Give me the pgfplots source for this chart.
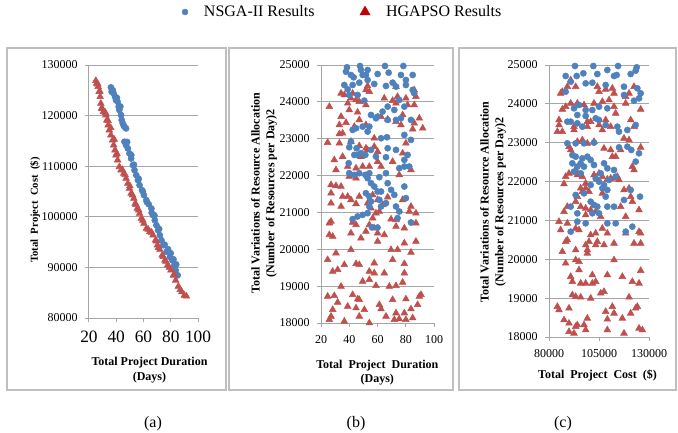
\documentclass[border=0pt]{standalone}
\usepackage{fontspec}
\setmainfont{Liberation Serif}
\usepackage{pgfplots}
\usepackage{pgfplotstable}
\pgfplotsset{compat=1.18}
\definecolor{nsga}{HTML}{4F81BD}
\definecolor{hga}{HTML}{C0504D}
\definecolor{gridc}{HTML}{A6A6A6}
\definecolor{boxc}{HTML}{BFBFBF}
\definecolor{legred}{HTML}{C00000}

% ---------- panel (a) ----------
\pgfplotstableread{
x y
36.1 125580
36.6 124720
38.1 124390
39.1 123730
39.8 123070
41.0 122740
41.8 121760
42.3 121100
43.5 120110
44.0 119120
44.8 118460
46.0 117800
47.2 117470
46.0 114830
47.2 114170
48.5 113510
49.7 112520
50.9 111530
52.2 110210
53.4 109220
54.7 108230
55.9 107240
57.1 106250
58.9 105270
60.3 104280
62.1 103290
63.8 102490
65.8 101640
67.0 100320
68.3 99330
69.5 98340
70.7 97350
72.0 96360
73.2 95370
74.5 94390
76.9 93070
79.4 92070
81.1 91410
82.6 90420
83.6 89430
85.1 88440
37.5 125000
40.5 123500
43.0 121800
45.5 118000
48.0 114800
51.0 112200
53.0 110300
56.5 107500
59.5 105000
62.5 102900
66.0 100800
68.0 100300
71.5 97600
75.5 94500
78.0 93600
80.0 92800
82.0 91600
84.0 90600
}\hbA
\pgfplotstableread{
x y
25.0 126900
25.7 126370
26.7 125710
27.4 124720
28.2 123730
28.7 122410
29.2 121430
30.6 120770
32.4 120110
33.1 119120
34.1 118130
34.9 117140
36.1 116150
37.3 115160
38.1 114170
39.1 113180
39.8 112190
41.0 111200
42.3 109880
43.5 109220
45.5 108560
47.2 107570
48.5 106580
49.7 105590
50.9 104610
52.9 103620
53.9 102630
55.4 101640
57.1 100650
58.4 99660
60.3 98670
62.1 97680
64.6 97020
67.0 96360
68.8 95370
70.2 94390
72.0 93530
73.7 92410
75.7 91410
77.7 90420
80.1 89430
81.9 88440
83.6 87450
85.6 86260
88.1 85140
90.0 84480
91.5 84300
26.5 126200
28.0 124800
30.0 121300
32.0 120600
34.0 119000
36.0 117600
38.5 115300
40.5 112500
44.5 109300
46.5 108300
50.0 106100
52.0 104300
54.5 102400
56.5 101300
59.5 99300
63.5 97500
66.0 96900
69.5 95200
71.0 93900
74.5 92100
76.5 91200
79.0 90000
82.5 88600
87.0 85600
}\haA

% ---------- panel (b) ----------
\pgfplotstableread{
x y
38.4 24937
37.7 24819
47.6 24973
41.2 24729
43.1 24666
49.5 24729
51.8 24729
48.3 24865
53.0 24865
60.1 24756
65.3 24973
67.9 24792
78.3 24973
76.6 24729
84.9 24729
80.1 24594
36.5 24458
38.9 24341
42.4 24458
47.1 24521
53.0 24594
57.7 24485
66.0 24431
70.7 24521
73.1 24413
80.1 24458
45.9 24187
40.0 24187
84.9 24323
86.0 24232
50.7 24034
67.2 23871
71.9 23781
75.4 24052
79.0 23871
63.6 23736
60.1 23600
55.4 23645
58.9 23555
67.2 23510
73.1 23510
83.7 23510
76.6 23555
53.0 23194
49.5 23329
44.8 23284
42.4 23239
54.2 23329
62.5 23013
66.7 23040
79.0 23103
83.7 22968
41.2 22923
40.0 22769
45.2 22742
43.6 22561
45.9 22561
48.3 22606
51.4 22561
55.4 22697
58.9 22516
66.0 22498
73.1 22697
67.2 22742
79.0 22426
81.3 22561
39.6 22335
40.0 22064
43.6 22019
47.1 22064
54.2 22064
53.0 21929
51.4 22019
61.3 21956
66.0 22064
75.4 22200
79.0 22245
82.5 22245
55.4 21793
57.7 21703
60.1 21567
62.5 21567
67.2 21793
69.6 21613
79.0 21703
51.8 21522
54.2 21432
61.3 21342
71.9 21477
80.1 21387
55.4 21296
54.2 21161
62.5 21161
66.0 21251
73.1 21161
75.4 21025
53.0 20980
49.5 20935
45.9 20890
74.2 20845
83.7 20727
42.4 20818
56.0 20600
60.0 20590
}\hbB
\pgfplotstableread{
x y
34.2 24232
36.5 24187
42.4 24232
41.2 24097
53.0 24431
54.2 24277
51.8 24323
73.1 24413
64.8 24097
74.2 24142
80.1 24097
87.2 24142
86.0 24323
38.9 23961
44.8 24052
47.1 24006
25.9 23871
40.0 23781
45.9 23717
51.8 23916
70.7 24034
73.1 23961
81.3 23916
86.0 23916
34.2 23600
37.7 23437
33.0 23374
47.1 23510
51.8 23374
62.5 23600
67.2 23528
73.1 23464
76.6 23374
77.8 23645
86.0 23419
89.6 23555
92.0 23284
84.9 23257
43.6 23329
35.3 23148
33.0 23130
57.7 23013
24.7 22895
33.0 22877
41.2 22923
47.1 22805
51.8 22742
53.0 22697
57.7 22787
60.1 22651
48.3 22516
29.4 22426
35.3 22516
30.6 22155
38.9 22245
40.0 21974
44.8 22200
49.5 22245
54.2 22245
62.5 22245
60.1 22380
70.7 22380
77.8 22606
80.1 22877
83.7 22155
75.4 22019
44.8 21929
27.1 21748
30.6 21721
34.2 21703
27.1 21522
35.3 21432
38.9 21432
41.2 21342
47.1 21432
27.1 21251
34.2 21161
44.8 21233
56.6 21477
60.1 21342
63.7 21206
61.3 21025
58.9 20980
67.2 21414
77.8 21342
83.7 21161
87.2 20980
82.5 21025
53.0 21251
55.4 21116
25.9 20709
27.1 20754
42.4 20727
44.8 20664
25.9 20393
28.3 20348
41.2 20438
48.3 20303
51.8 20484
54.2 20664
57.7 20574
60.1 20438
60.1 20213
64.8 20393
56.6 20845
69.6 20818
73.1 20800
73.1 20619
79.0 20167
87.2 20709
87.2 20213
79.0 20574
24.7 19716
30.6 19896
41.2 19987
28.3 19400
31.8 19445
36.5 19580
44.8 19607
47.1 19580
54.2 19400
57.7 19626
57.7 19354
64.8 19354
69.6 19987
70.7 19716
74.2 19987
79.0 19607
83.7 19914
79.0 19354
54.2 19174
49.5 19129
34.2 18993
58.9 19011
68.4 18993
73.1 19011
77.8 19101
24.7 18722
29.4 18740
31.8 18559
28.3 18361
42.4 18767
46.0 18650
38.9 18451
47.1 18632
44.8 18406
50.7 18361
61.3 18496
62.5 18379
70.7 18632
80.1 18650
89.6 18722
90.8 18767
88.4 18496
83.7 18379
79.0 18270
73.1 18270
27.1 18180
25.9 18090
36.5 18045
47.1 18180
54.2 18000
66.0 18180
71.9 18090
75.4 18108
80.1 18090
84.9 18135
}\haB

% ---------- panel (c) ----------
\pgfplotstableread{
x y
93000 24974
102170 24974
109170 24871
114510 24974
123840 24940
88330 24717
93840 24717
97170 24786
104170 24768
112500 24717
113840 24743
120840 24768
123340 24854
90840 24571
98340 24528
101670 24545
108340 24485
117500 24442
88330 24314
124170 24400
125840 24271
117500 24228
122510 24082
125010 24142
95000 23971
92500 23885
98340 23842
101670 23842
105000 23928
109170 23885
94170 23713
98340 23688
103340 23628
105000 23585
89170 23542
90840 23542
94170 23499
96670 23413
108340 23456
114170 23413
119170 23327
123340 23456
115000 23285
89170 22984
93340 22984
97500 22984
102500 23002
115000 22881
119170 22899
121170 22813
125010 22727
91670 22684
93340 22641
96670 22598
99170 22641
100840 22555
95840 22470
91670 22470
94170 22384
97500 22384
102500 22427
107510 22470
123340 22513
92500 22255
95840 22212
105840 22212
109170 22341
110010 22041
112510 22298
113340 22127
103340 22084
105000 21998
107510 21912
106670 21827
109170 21784
100840 21912
97500 21698
93340 21655
100840 21483
102500 21398
104170 21355
108340 21612
109170 21355
112510 21355
117500 21526
120840 21784
125510 21612
90840 21355
94170 21183
101670 21183
105000 21183
94170 20969
98340 20926
109170 20926
113340 20926
90840 20711
118340 20711
121670 20840
}\hbC
\pgfplotstableread{
x y
86670 24314
85830 24271
89170 24442
93340 24442
90840 24614
104170 24442
105000 24314
108340 24374
111670 24400
112510 24271
118340 24185
120010 24271
122510 24442
110010 24099
90840 24014
94170 24014
86670 23859
88330 23928
97500 23971
102500 24014
106670 24057
112510 23928
113340 23756
118340 24014
125840 23859
85000 23585
85000 23456
84170 23285
86670 23285
92500 23413
92500 23327
99170 23542
99170 23413
100840 23542
105000 23456
108340 23585
106670 23327
110840 23413
120840 23585
122510 23413
117500 23113
120010 23070
94170 23027
96670 23070
99170 22984
102500 23027
107510 22856
110840 22813
115840 22813
125840 22881
90840 22813
90000 22899
111670 22641
113340 22641
121670 22384
122510 22298
88330 22127
90000 22212
93340 22298
94170 22170
96670 22127
102500 22170
105000 22212
106670 22127
109170 22058
110840 22084
112510 22084
114170 22127
115000 22041
98340 21955
95840 21827
98340 21827
87500 21938
94170 21612
96670 21741
100000 21741
106670 21698
117500 21784
120010 21827
120840 21612
121670 21483
93340 21483
95840 21355
98340 21312
100840 21269
89170 21355
87500 21226
98340 21140
103340 21226
105840 21097
115840 21355
118340 21097
125010 21269
85000 20969
89170 20926
85830 20754
93340 20797
95000 20754
100840 20626
103340 20669
106670 20797
109170 20669
104170 20454
100000 20454
98340 20368
103340 20368
107510 20368
112510 20411
118340 20669
125010 20711
125840 20669
89170 20497
88330 20454
125840 20411
122510 20411
86670 20197
93340 20240
99170 20154
88330 19897
93340 19982
95000 19940
99170 20240
112510 19982
125840 19708
90840 19554
95000 19725
91670 19425
95840 19382
98340 19382
101670 19382
103340 19425
101670 19597
109170 19597
116670 19554
121670 19425
125010 19382
91670 19082
93340 19039
95840 19022
100840 18996
105840 19125
107510 19168
120010 19022
84170 18782
85000 18696
90000 18739
87500 18439
90000 18353
93340 18267
94170 18310
97500 18310
99170 18481
98340 18181
90000 18138
92500 18095
108340 18653
111670 18782
112510 18610
109170 18456
116670 18481
120840 18610
123340 18739
124170 18782
109170 18181
117500 18095
125010 18224
126680 18181
}\haC

\pgfplotsset{
  panel/.style={
    scale only axis,
    axis x line*=bottom, axis y line*=left,
    axis line style={gridc, line width=0.75pt},
    ymajorgrids,
    major grid style={gridc, line width=0.75pt},
    major tick style={gridc, line width=0.75pt},
    major tick length=3pt,
    tick align=outside,
    clip=false,
    scaled ticks=false,
    /pgf/number format/fixed,
    /pgf/number format/precision=0,
    /pgf/number format/assume math mode=true,
    /pgf/number format/1000 sep={},
    tick label style={font=\fontsize{9}{10}\selectfont},
    yticklabel style={xshift=-2pt},
    xticklabel style={yshift=-3pt},
    label style={font=\fontsize{9}{11}\selectfont\bfseries, align=center},
  },
  nsg/.style={only marks, mark=*, mark size=2.3pt, color=nsga, mark options={draw=nsga, fill=nsga}},
  hga/.style={only marks, mark=triangle*, mark size=2.9pt, color=hga, mark options={draw=hga, fill=hga}},
}

\begin{document}
\begin{tikzpicture}
\begin{scope}[x=0.75pt, y=-0.75pt]
\useasboundingbox (0,0) rectangle (678,432);
\draw[boxc, line width=0.8pt] (7,48) rectangle (226,390);
\draw[boxc, line width=0.8pt] (229,48) rectangle (453,390);
\draw[boxc, line width=0.8pt] (459,48) rectangle (676,390);
\node[font=\fontsize{12}{14}\selectfont] at (153,424) {(a)};
\node[font=\fontsize{12}{14}\selectfont] at (356,424) {(b)};
\node[font=\fontsize{12}{14}\selectfont] at (563,424) {(c)};
\end{scope}

% legend
\begin{axis}[hide axis, scale only axis, width=20pt, height=10pt,
  xmin=0, xmax=1, ymin=0, ymax=1,
  at={(257.25pt,-9pt)}, anchor=center,
  legend columns=2,
  legend style={at={(0.5,0.5)}, anchor=center, draw=none, fill=none,
    font=\fontsize{12}{14}\selectfont,
    /tikz/every odd column/.append style={column sep=10pt},
    /tikz/every even column/.append style={column sep=32pt}},
  legend cell align=left]
\addlegendimage{only marks, mark=*, mark size=2.2pt, color=nsga}
\addlegendentry{NSGA-II Results}
\addlegendimage{only marks, mark=triangle*, mark size=4.4pt, color=legred}
\addlegendentry{HGAPSO Results}
\end{axis}

% panel (a)
\begin{axis}[panel,
  at={(66.75pt,-238.5pt)}, anchor=south west,
  width=81.75pt, height=189.75pt,
  xmin=20, xmax=100, ymin=80000, ymax=130000,
  xtick={20,40,60,80,100},
  ytick={80000,90000,100000,110000,120000,130000},
  xticklabel style={font=\fontsize{13}{14}\selectfont},
  xlabel={Total Project Duration\\(Days)},
  ylabel={Total\ \ Project\ \ Cost\ \ (\$)},
  xlabel style={at={(axis description cs:0.555,-0.206)}, anchor=center},
  ylabel style={at={(axis description cs:-0.495,0.427)}, anchor=center,
    font=\fontsize{8}{10}\selectfont\bfseries},
]
\addplot[nsg] table {\hbA};
\addplot[hga] table {\haA};
\end{axis}

% panel (b)
\begin{axis}[panel,
  at={(240.75pt,-242.25pt)}, anchor=south west,
  width=84.75pt, height=193.5pt,
  xmin=20, xmax=100, ymin=18000, ymax=25000,
  xtick={20,40,60,80,100},
  ytick={18000,19000,20000,21000,22000,23000,24000,25000},
  xlabel={Total\ \ Project\ \ Duration\\(Days)},
  ylabel={Total Variations of Resource Allocation\\(Number of Resources per Day)2},
  xlabel style={at={(axis description cs:0.498,-0.192)}, anchor=center},
  ylabel style={at={(axis description cs:-0.504,0.503)}, anchor=center},
]
\addplot[hga] table {\haB};
\addplot[nsg] table {\hbB};
\end{axis}

% panel (c)
\begin{axis}[panel,
  at={(411.75pt,-252.75pt)}, anchor=south west,
  width=75pt, height=204pt,
  xmin=80000, xmax=130000, ymin=18000, ymax=25000,
  xtick={80000,105000,130000},
  ytick={18000,19000,20000,21000,22000,23000,24000,25000},
  xlabel={Total\ \ Project\ \ Cost\ \ (\$)},
  ylabel={Total Variations of Resource Allocation\\(Number of Resources per Day)2},
  xlabel style={at={(axis description cs:0.485,-0.14)}, anchor=center},
  ylabel style={at={(axis description cs:-0.56,0.497)}, anchor=center},
]
\addplot[hga] table {\haC};
\addplot[nsg] table {\hbC};
\end{axis}
\end{tikzpicture}
\end{document}
